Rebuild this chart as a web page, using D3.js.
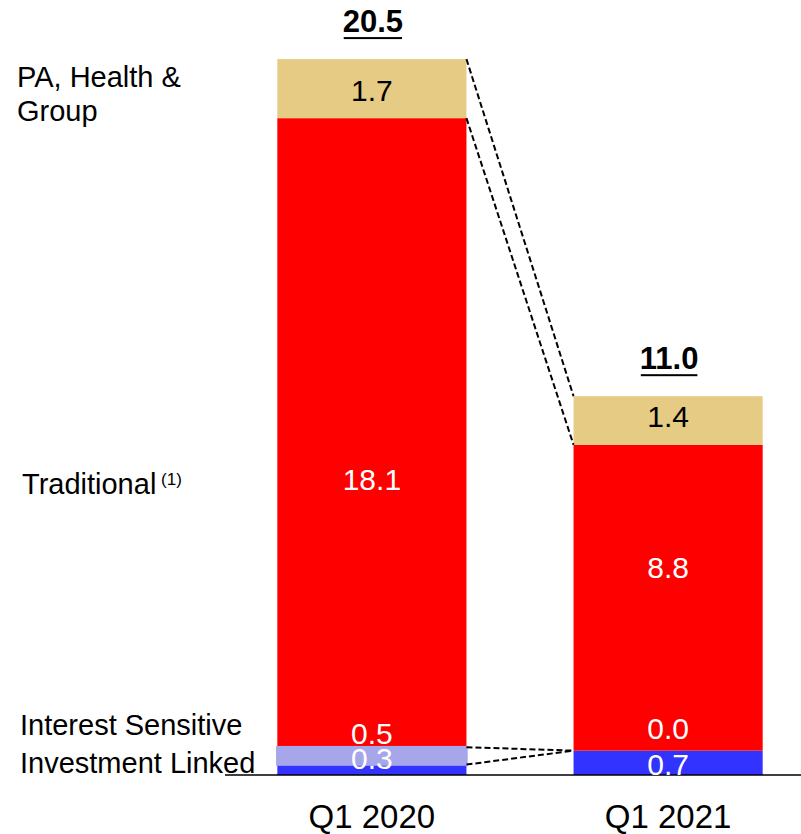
<!DOCTYPE html>
<html>
<head>
<meta charset="utf-8">
<script src="https://cdn.jsdelivr.net/npm/d3@7"></script>
<style>
  html, body { margin: 0; padding: 0; background: #fff; }
  svg { display: block; font-family: "Liberation Sans", Arial, Helvetica, sans-serif; }
</style>
</head>
<body>
<svg id="chart" width="801" height="834"></svg>
<script>
// Quarterly figures by product line
const categories = ["Q1 2020", "Q1 2021"];
const seriesKeys = ["Investment Linked", "Interest Sensitive", "Traditional", "PA, Health & Group"];
const investmentLinked = [0.3, 0.7];
const interestSensitive = [0.5, 0.0];
const traditional = [18.1, 8.8];
const paHealthGroup = [1.7, 1.4];
const totals = [20.5, 11.0];

const colors = {
  "Investment Linked": "#3333FF",
  "Interest Sensitive": "#A6A6EA",
  "Traditional": "#FF0000",
  "PA, Health & Group": "#E5CB83"
};
const labelColors = {
  "Investment Linked": "#fff",
  "Interest Sensitive": "#fff",
  "Traditional": "#fff",
  "PA, Health & Group": "#000"
};

const table = categories.map((c, i) => ({
  category: c,
  "Investment Linked": investmentLinked[i],
  "Interest Sensitive": interestSensitive[i],
  "Traditional": traditional[i],
  "PA, Health & Group": paHealthGroup[i]
}));

const svg = d3.select("#chart");
const baseY = 775;

const x = d3.scaleBand()
  .domain(categories)
  .range([224, 816])
  .paddingInner(0.3615)
  .paddingOuter(0.18);

const y = d3.scaleLinear()
  .domain([0, 22.3])
  .range([baseY, 0]);

const stacked = d3.stack().keys(seriesKeys)(table);

// Stacked segments
const layers = svg.append("g").selectAll("g.layer")
  .data(stacked)
  .join("g")
  .attr("class", "layer")
  .attr("fill", d => colors[d.key]);

layers.selectAll("rect")
  .data(d => d)
  .join("rect")
  .attr("x", d => x(d.data.category))
  .attr("width", x.bandwidth())
  .attr("y", d => y(d[1]))
  .attr("height", d => y(d[0]) - y(d[1]));

// Interest Sensitive drawn on top with an outline so thin slices stay visible
layers.filter(d => d.key === "Interest Sensitive")
  .attr("stroke", colors["Interest Sensitive"])
  .attr("stroke-width", 2.5)
  .raise();

// Dashed connectors between segment boundaries of the two bars
const [c0, c1] = categories;
const connectors = svg.append("g")
  .attr("stroke", "#000")
  .attr("stroke-width", 2)
  .attr("stroke-dasharray", "6,3")
  .attr("fill", "none");
stacked.forEach(layer => {
  connectors.append("line")
    .attr("x1", x(c0) + x.bandwidth())
    .attr("y1", y(layer[0][1]))
    .attr("x2", x(c1))
    .attr("y2", y(layer[1][1]));
});

// Axis baseline
svg.append("line")
  .attr("x1", 225).attr("x2", 801)
  .attr("y1", baseY).attr("y2", baseY)
  .attr("stroke", "#000")
  .attr("stroke-width", 1.5);

// Value labels, nudged where slices are too thin to hold them
const nudge = {
  "Q1 2020": { "Investment Linked": -12, "Interest Sensitive": -23, "Traditional": 47, "PA, Health & Group": 2 },
  "Q1 2021": { "Investment Linked": 1, "Interest Sensitive": -22, "Traditional": -31, "PA, Health & Group": -4 }
};
const fmt = d3.format(".1f");
const valueLabels = svg.append("g")
  .attr("text-anchor", "middle")
  .attr("font-size", 30);
stacked.forEach(layer => {
  layer.forEach(d => {
    const cat = d.data.category;
    const mid = (y(d[0]) + y(d[1])) / 2;
    valueLabels.append("text")
      .attr("x", x(cat) + x.bandwidth() / 2)
      .attr("y", mid + nudge[cat][layer.key])
      .attr("dy", "0.36em")
      .attr("fill", labelColors[layer.key])
      .text(fmt(d[1] - d[0]));
  });
});

// Totals, bold and underlined, above each bar
const topLayer = stacked[stacked.length - 1];
categories.forEach((cat, i) => {
  const cx = x(cat) + x.bandwidth() / 2 + 1;
  const by = y(topLayer[i][1]) - 27;
  const t = svg.append("text")
    .attr("x", cx)
    .attr("y", by)
    .attr("text-anchor", "middle")
    .attr("font-size", 31)
    .attr("font-weight", "bold")
    .attr("fill", "#000")
    .text(fmt(totals[i]));
  const bb = t.node().getBBox();
  svg.append("rect")
    .attr("x", bb.x + 1)
    .attr("y", by + 5)
    .attr("width", bb.width - 2)
    .attr("height", 2)
    .attr("fill", "#000");
});

// Category labels
svg.append("g").selectAll("text")
  .data(categories)
  .join("text")
  .attr("x", d => x(d) + x.bandwidth() / 2)
  .attr("y", 828)
  .attr("text-anchor", "middle")
  .attr("font-size", 33)
  .attr("fill", "#000")
  .text(d => d);

// Series names on the left
const names = svg.append("g").attr("font-size", 29).attr("fill", "#000");
names.append("text").attr("x", 17).attr("y", 87).text("PA, Health &");
names.append("text").attr("x", 17).attr("y", 121).text("Group");
const trad = names.append("text").attr("x", 22).attr("y", 494).text("Traditional");
trad.append("tspan").attr("font-size", 17).attr("dy", -9).text(" (1)");
names.append("text").attr("x", 20).attr("y", 735).text("Interest Sensitive");
names.append("text").attr("x", 20).attr("y", 772.7).text("Investment Linked");
</script>
</body>
</html>
